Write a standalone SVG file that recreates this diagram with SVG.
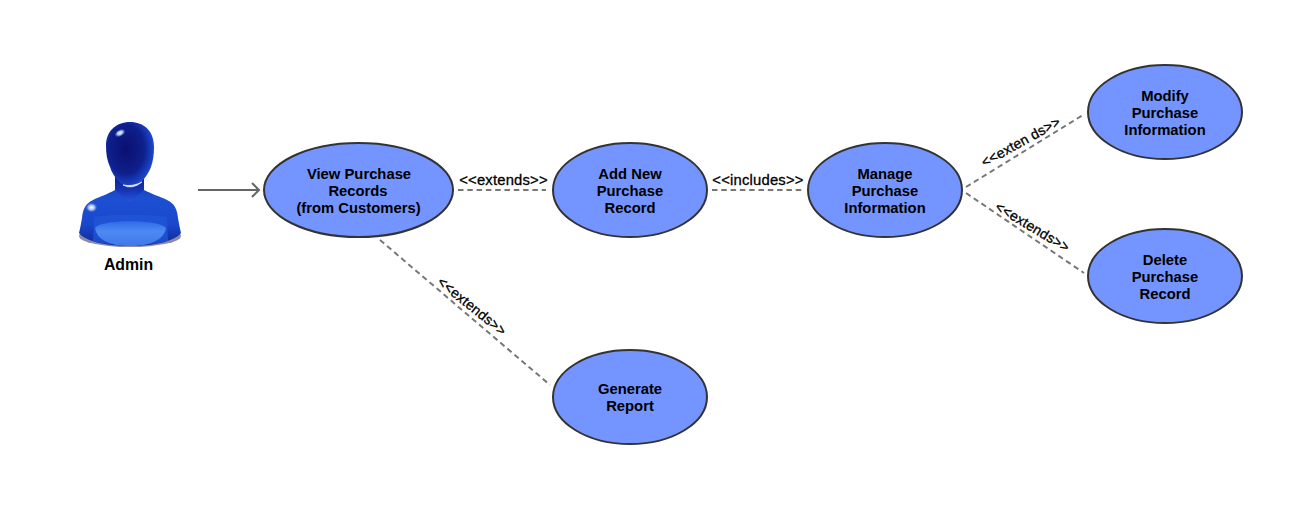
<svg xmlns="http://www.w3.org/2000/svg" width="1307" height="509" viewBox="0 0 1307 509">
<style>
text{font-family:"Liberation Sans",Arial,sans-serif;fill:#000}
.n{font-size:14.8px;font-weight:700;text-anchor:middle}
.l{font-size:14.8px;text-anchor:middle;font-weight:400;letter-spacing:.2px;stroke:#000;stroke-width:.3}
.r{font-size:14px}
ellipse.u{fill:#7495ff;stroke:#333;stroke-width:2}
.d{fill:none;stroke:#777;stroke-width:2;stroke-dasharray:5.500 3.800}
.a{fill:none;stroke:#666;stroke-width:2}
</style>
<defs>
<radialGradient id="head" cx=".42" cy=".42" r=".68"><stop offset="0" stop-color="#0a1070"/><stop offset=".55" stop-color="#0e1f8c"/><stop offset=".85" stop-color="#1c48d0"/><stop offset="1" stop-color="#4f86ee"/></radialGradient>
<linearGradient id="body" x1="0" y1="0" x2="0" y2="1"><stop offset="0" stop-color="#0f2aa6"/><stop offset=".35" stop-color="#1d4fd2"/><stop offset=".7" stop-color="#1a48cc"/><stop offset="1" stop-color="#0e2896"/></linearGradient>
<linearGradient id="neck" x1="0" y1="0" x2="0" y2="1"><stop offset="0" stop-color="#0c1c8c"/><stop offset=".6" stop-color="#1636b8"/><stop offset="1" stop-color="#2458dc"/></linearGradient>
<linearGradient id="chest" x1="0" y1="0" x2="0" y2="1"><stop offset="0" stop-color="#2e6ae8"/><stop offset=".4" stop-color="#4e8af2"/><stop offset="1" stop-color="#3f78ea"/></linearGradient>
<radialGradient id="shine"><stop offset="0" stop-color="#fff"/><stop offset=".5" stop-color="#c6d8fa" stop-opacity=".85"/><stop offset="1" stop-color="#4a78e0" stop-opacity="0"/></radialGradient>
</defs>
<g id="connectors">
<path class="a" d="M198 190H259M252 183L259 190L252 197"/>
<path class="d" d="M458 190H546"/>
<path class="d" d="M712 190H803"/>
<path class="d" d="M966 187L1083 115"/>
<path class="d" d="M966 193L1084 273"/>
<path class="d" d="M380 240L550 385"/>
</g>
<g id="actor-admin">
<ellipse cx="130" cy="236" rx="51" ry="11" fill="#8f8ca6"/>
<path d="M115 172L115 190C108 194 99 197 93 200C85 204 83 209 82 218C81 224 80 229 79 233C86 242 108 246 130 246C152 246 174 242 181 233C180 229 179 224 178 218C177 209 175 204 167 200C161 197 152 194 144 190L144 172Z" fill="url(#body)"/>
<path d="M115 175L144 175L144 190L130 202L115 190Z" fill="url(#neck)"/>
<path d="M94 217C110 214 150 214 167 217L168 241C155 246 105 246 93 241Z" fill="#2257d8" opacity=".75"/>
<path d="M95 228C100 219 160 219 166 228C164 240 150 246 130 246C110 246 97 240 95 228Z" fill="url(#chest)"/>
<path d="M106 146C106 131 116 122 130 122C144 122 154 131 154 147C154 155 153 161 151 167C147 177 139 187 130 187C122 187 113 177 110 167C107 160 106 154 106 146Z" fill="url(#head)"/>
<path d="M123 185Q132 190 142 182Q133 187 123 185Z" fill="#e4ecff" stroke="#e4ecff" stroke-width=".8"/>
<ellipse cx="120" cy="133" rx="6" ry="3.600" fill="url(#shine)" transform="rotate(-28 120 133)"/>
<ellipse cx="91.500" cy="207.500" rx="6" ry="5" fill="url(#shine)"/>
</g>
<text class="n" x="128.500" y="270" style="font-size:15.8px">Admin</text>
<g id="uc-view"><ellipse class="u" cx="358.500" cy="190" rx="94.500" ry="47"/><text class="n" x="359" y="179">View Purchase</text><text class="n" x="358" y="196">Records</text><text class="n" x="358.500" y="213">(from Customers)</text></g>
<g id="uc-add"><ellipse class="u" cx="630" cy="190" rx="77" ry="47"/><text class="n" x="630" y="179">Add New</text><text class="n" x="630" y="196">Purchase</text><text class="n" x="630" y="213">Record</text></g>
<g id="uc-manage"><ellipse class="u" cx="885" cy="190" rx="77" ry="47"/><text class="n" x="885" y="179">Manage</text><text class="n" x="885" y="196">Purchase</text><text class="n" x="885" y="213">Information</text></g>
<g id="uc-modify"><ellipse class="u" cx="1165" cy="112" rx="77" ry="47"/><text class="n" x="1165" y="101">Modify</text><text class="n" x="1165" y="118">Purchase</text><text class="n" x="1165" y="135">Information</text></g>
<g id="uc-delete"><ellipse class="u" cx="1165" cy="276" rx="77" ry="47"/><text class="n" x="1165" y="265">Delete</text><text class="n" x="1165" y="282">Purchase</text><text class="n" x="1165" y="299">Record</text></g>
<g id="uc-report"><ellipse class="u" cx="630" cy="397" rx="77" ry="47"/><text class="n" x="630" y="394">Generate</text><text class="n" x="630" y="411">Report</text></g>
<g id="labels">
<text class="l" x="503.500" y="185">&lt;&lt;extends&gt;&gt;</text>
<text class="l" x="758" y="185">&lt;&lt;includes&gt;&gt;</text>
<text class="l r" transform="translate(1023 146) rotate(-29)">&lt;&lt;exten ds&gt;&gt;</text>
<text class="l r" transform="translate(1030 231) rotate(31)">&lt;&lt;extends&gt;&gt;</text>
<text class="l r" transform="translate(469 310) rotate(39)">&lt;&lt;extends&gt;&gt;</text>
</g>
</svg>
